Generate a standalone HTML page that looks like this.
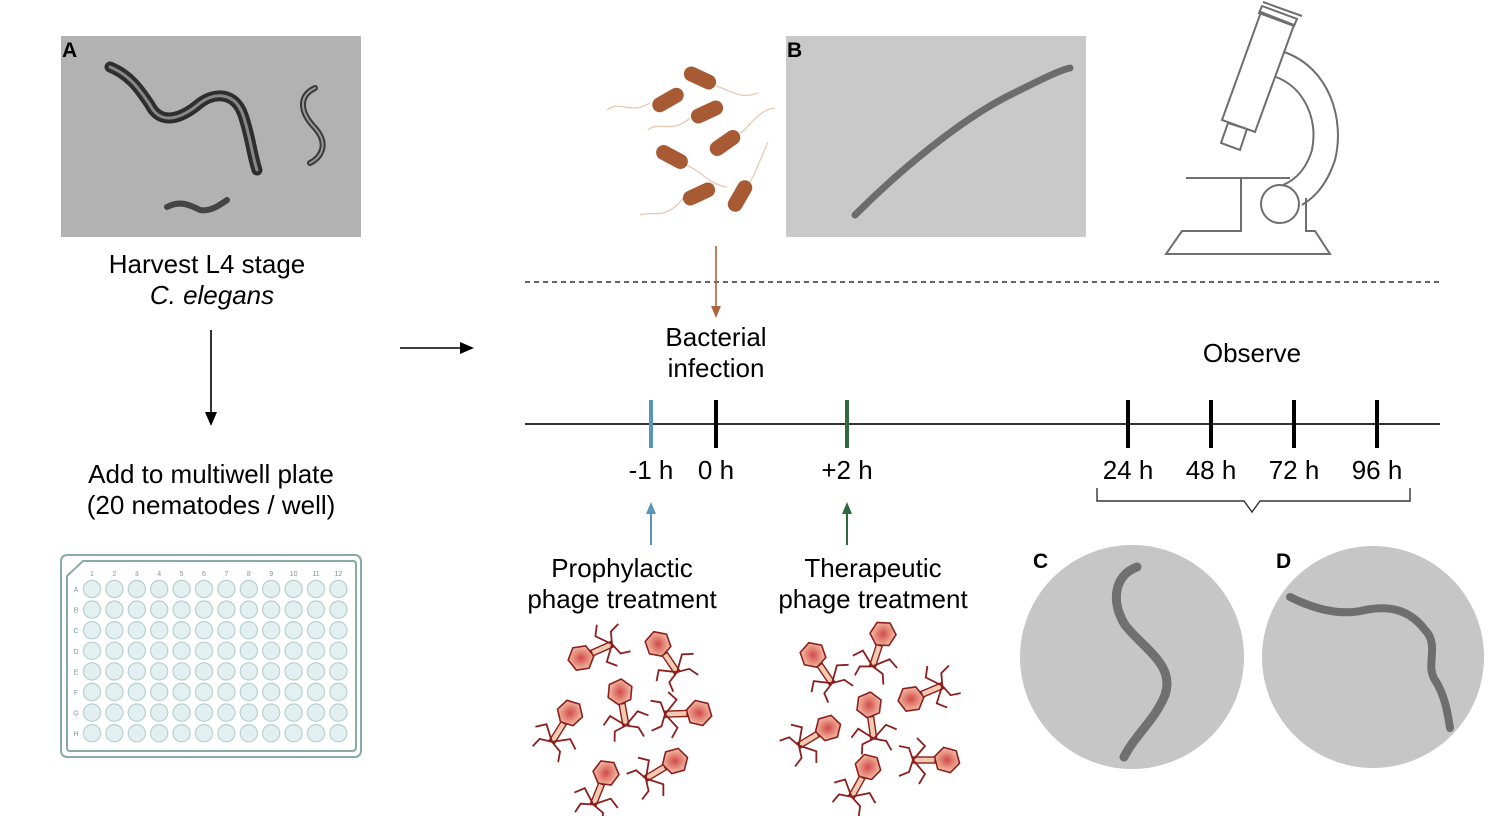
<!DOCTYPE html>
<html><head><meta charset="utf-8"><style>
html,body{margin:0;padding:0;background:#fff;}
svg{display:block;}
text{font-family:"Liberation Sans",Arial,sans-serif;}
</style></head><body>
<svg width="1506" height="816" viewBox="0 0 1506 816" xmlns="http://www.w3.org/2000/svg">
<defs>
<radialGradient id="hg" cx="50%" cy="50%" r="50%"><stop offset="0" stop-color="#d24a4a"/><stop offset="1" stop-color="#f2b9a0"/></radialGradient>
<g id="ph">
  <polygon points="0,-13 11.3,-6.5 11.3,6.5 0,13 -11.3,6.5 -11.3,-6.5" fill="url(#hg)" stroke="#8b1f1f" stroke-width="1.6" transform="rotate(15)"/>
  <rect x="-3" y="12" width="6" height="22" fill="#f3c9b0" stroke="#8b1f1f" stroke-width="1.4"/>
  <path d="M0,34 L-14,22 L-22,30 M0,34 L14,22 L24,28 M0,34 L-12,38 L-14,48 M0,34 L12,38 L16,48" fill="none" stroke="#8b1f1f" stroke-width="1.8"/>
</g>
<g id="bac"><rect x="-17" y="-7.5" width="34" height="15" rx="7.5" fill="#a75a34"/></g>
<g id="row" fill="#e3f0f2" stroke="#b9cfcf" stroke-width="1.2">
<circle cx="92" cy="0" r="8.6"/><circle cx="114.4" cy="0" r="8.6"/><circle cx="136.8" cy="0" r="8.6"/><circle cx="159.2" cy="0" r="8.6"/><circle cx="181.6" cy="0" r="8.6"/><circle cx="204" cy="0" r="8.6"/><circle cx="226.4" cy="0" r="8.6"/><circle cx="248.8" cy="0" r="8.6"/><circle cx="271.2" cy="0" r="8.6"/><circle cx="293.6" cy="0" r="8.6"/><circle cx="316" cy="0" r="8.6"/><circle cx="338.4" cy="0" r="8.6"/>
</g>
</defs>

<rect x="61" y="36" width="300" height="201" fill="#b2b2b2"/>
<g fill="none" stroke-linecap="round">
<path d="M110,67 C130,75 140,90 150,105 C160,125 180,120 200,103 C215,92 235,92 243,115 C250,135 252,155 257,170" stroke="#2e2e2e" stroke-width="11"/>
<path d="M110,67 C130,75 140,90 150,105 C160,125 180,120 200,103 C215,92 235,92 243,115 C250,135 252,155 257,170" stroke="#888" stroke-width="3"/>
<path d="M315,88 C300,95 298,110 315,128 C330,145 320,158 310,163" stroke="#3a3a3a" stroke-width="6"/>
<path d="M315,88 C300,95 298,110 315,128 C330,145 320,158 310,163" stroke="#999" stroke-width="2"/>
<path d="M167,207 C180,200 190,205 200,210 C210,212 220,205 227,200" stroke="#444" stroke-width="6"/>
</g>
<text x="62" y="57" font-size="21" font-weight="bold">A</text>

<text x="207" y="273" font-size="26" text-anchor="middle">Harvest L4 stage</text>
<text x="212" y="304" font-size="26" text-anchor="middle" font-style="italic">C. elegans</text>
<line x1="211" y1="330" x2="211" y2="414" stroke="#000" stroke-width="1.6"/>
<polygon points="205,412 217,412 211,426" fill="#000"/>
<text x="211" y="483" font-size="26" text-anchor="middle">Add to multiwell plate</text>
<text x="211" y="514" font-size="26" text-anchor="middle">(20 nematodes / well)</text>

<rect x="61" y="555" width="300" height="202" rx="6" fill="#fff" stroke="#8aaaa5" stroke-width="2"/>
<path d="M83,561 L353,561 Q356,561 356,564 L356,747 Q356,751 352,751 L70,751 Q67,751 67,748 L67,576 Z" fill="none" stroke="#8aaaa5" stroke-width="2"/>
<use href="#row" transform="translate(0,589)"/>
<use href="#row" transform="translate(0,609.6)"/>
<use href="#row" transform="translate(0,630.2)"/>
<use href="#row" transform="translate(0,650.8)"/>
<use href="#row" transform="translate(0,671.4)"/>
<use href="#row" transform="translate(0,692)"/>
<use href="#row" transform="translate(0,712.6)"/>
<use href="#row" transform="translate(0,733.2)"/>
<g font-size="7" fill="#7a9a95" text-anchor="middle">
<text x="76" y="592">A</text><text x="76" y="612.6">B</text><text x="76" y="633.2">C</text><text x="76" y="653.8">D</text><text x="76" y="674.4">E</text><text x="76" y="695">F</text><text x="76" y="715.6">G</text><text x="76" y="736.2">H</text>
<text x="92" y="576">1</text><text x="114.4" y="576">2</text><text x="136.8" y="576">3</text><text x="159.2" y="576">4</text><text x="181.6" y="576">5</text><text x="204" y="576">6</text><text x="226.4" y="576">7</text><text x="248.8" y="576">8</text><text x="271.2" y="576">9</text><text x="293.6" y="576">10</text><text x="316" y="576">11</text><text x="338.4" y="576">12</text>
</g>

<line x1="400" y1="348" x2="462" y2="348" stroke="#000" stroke-width="1.6"/>
<polygon points="460,342 474,348 460,354" fill="#000"/>

<g fill="none" stroke="#e8c8b5" stroke-width="1.3">
<path d="M607,110 C620,100 630,115 650,103"/><path d="M648,130 C660,120 670,135 690,118"/>
<path d="M716,86 C730,90 740,100 758,93"/><path d="M741,133 C755,120 760,110 775,108"/>
<path d="M686,165 C700,170 710,185 727,187"/><path d="M640,215 C655,210 665,222 685,196"/>
<path d="M748,185 C755,175 760,160 768,142"/>
</g>
<use href="#bac" transform="translate(700,78) rotate(25)"/>
<use href="#bac" transform="translate(668,100) rotate(-30)"/>
<use href="#bac" transform="translate(707,112) rotate(-25)"/>
<use href="#bac" transform="translate(725,143) rotate(-35)"/>
<use href="#bac" transform="translate(672,157) rotate(28)"/>
<use href="#bac" transform="translate(699,194) rotate(-25)"/>
<use href="#bac" transform="translate(740,196) rotate(-60)"/>

<rect x="786" y="36" width="300" height="201" fill="#c9c9c9"/>
<path d="M855,215 C900,170 960,120 1010,95 C1040,80 1060,70 1070,68" fill="none" stroke="#6c6c6c" stroke-width="7" stroke-linecap="round"/>
<text x="787" y="57" font-size="21" font-weight="bold">B</text>

<g fill="none" stroke="#6e6e6e" stroke-width="2">
<line x1="1263" y1="2" x2="1302" y2="16"/>
<polygon points="1262,6 1297,19 1294,26 1259,13"/>
<polygon points="1261,12 1294,25 1255,132 1222,120"/>
<polygon points="1228,123 1247,129 1240,150 1221,143"/>
<path d="M1284,52 C1330,68 1345,120 1335,160 C1325,190 1310,200 1302,205"/>
<path d="M1276,77 C1305,88 1318,120 1312,150 C1306,170 1295,180 1283,185"/>
<line x1="1186" y1="178" x2="1290" y2="178"/>
<circle cx="1280" cy="204" r="19"/>
<polyline points="1241,178 1241,231 1182,231 1166,254 1330,254 1315,231 1306,231 1306,198"/>
</g>

<line x1="525" y1="282" x2="1440" y2="282" stroke="#333" stroke-width="1.6" stroke-dasharray="5,4"/>

<line x1="716" y1="246" x2="716" y2="308" stroke="#b0603b" stroke-width="1.6"/>
<polygon points="711,306 721,306 716,318" fill="#b0603b"/>

<text x="716" y="346" font-size="26" text-anchor="middle">Bacterial</text>
<text x="716" y="377" font-size="26" text-anchor="middle">infection</text>
<text x="1252" y="362" font-size="26" text-anchor="middle">Observe</text>

<line x1="525" y1="424" x2="1440" y2="424" stroke="#333" stroke-width="2"/>
<g stroke-width="4">
<line x1="651" y1="400" x2="651" y2="448" stroke="#5a94b8"/>
<line x1="716" y1="400" x2="716" y2="448" stroke="#000"/>
<line x1="847" y1="400" x2="847" y2="448" stroke="#2e6a3e"/>
<line x1="1128" y1="400" x2="1128" y2="448" stroke="#000"/>
<line x1="1211" y1="400" x2="1211" y2="448" stroke="#000"/>
<line x1="1294" y1="400" x2="1294" y2="448" stroke="#000"/>
<line x1="1377" y1="400" x2="1377" y2="448" stroke="#000"/>
</g>
<g font-size="26" text-anchor="middle">
<text x="651" y="479">-1 h</text><text x="716" y="479">0 h</text><text x="847" y="479">+2 h</text>
<text x="1128" y="479">24 h</text><text x="1211" y="479">48 h</text><text x="1294" y="479">72 h</text><text x="1377" y="479">96 h</text>
</g>
<path d="M1097,488 L1097,501 L1244,501 L1252,512 L1260,501 L1410,501 L1410,488" fill="none" stroke="#333" stroke-width="1.4"/>

<line x1="651" y1="545" x2="651" y2="512" stroke="#5a94b8" stroke-width="2"/>
<polygon points="646,514 656,514 651,502" fill="#5a94b8"/>
<line x1="847" y1="545" x2="847" y2="512" stroke="#2e6a3e" stroke-width="2"/>
<polygon points="842,514 852,514 847,502" fill="#2e6a3e"/>

<text x="622" y="577" font-size="26" text-anchor="middle">Prophylactic</text>
<text x="622" y="608" font-size="26" text-anchor="middle">phage treatment</text>
<text x="873" y="577" font-size="26" text-anchor="middle">Therapeutic</text>
<text x="873" y="608" font-size="26" text-anchor="middle">phage treatment</text>

<use href="#ph" transform="translate(581,658) rotate(-114)"/>
<use href="#ph" transform="translate(658,644) rotate(-34)"/>
<use href="#ph" transform="translate(620,692) rotate(-10)"/>
<use href="#ph" transform="translate(570,713) rotate(32)"/>
<use href="#ph" transform="translate(699,713) rotate(88)"/>
<use href="#ph" transform="translate(606,773) rotate(22)"/>
<use href="#ph" transform="translate(675,761) rotate(59)"/>
<use href="#ph" transform="translate(813,655) rotate(-34)"/>
<use href="#ph" transform="translate(883,634) rotate(18)"/>
<use href="#ph" transform="translate(911,699) rotate(-113)"/>
<use href="#ph" transform="translate(869,705) rotate(-8)"/>
<use href="#ph" transform="translate(828,728) rotate(59)"/>
<use href="#ph" transform="translate(868,767) rotate(29)"/>
<use href="#ph" transform="translate(947,760) rotate(90)"/>

<circle cx="1132" cy="657" r="112" fill="#c6c6c6"/>
<path d="M1137,567 C1115,575 1110,600 1125,625 C1145,650 1175,665 1165,695 C1155,720 1135,735 1124,757" fill="none" stroke="#707070" stroke-width="9" stroke-linecap="round"/>
<circle cx="1373" cy="657" r="111" fill="#c6c6c6"/>
<path d="M1290,597 C1320,612 1345,615 1365,610 C1390,605 1410,610 1425,630 C1440,645 1425,665 1435,680 C1445,695 1448,715 1450,728" fill="none" stroke="#6e6e6e" stroke-width="8" stroke-linecap="round"/>
<text x="1033" y="568" font-size="21" font-weight="bold">C</text>
<text x="1276" y="568" font-size="21" font-weight="bold">D</text>
</svg>
</body></html>
